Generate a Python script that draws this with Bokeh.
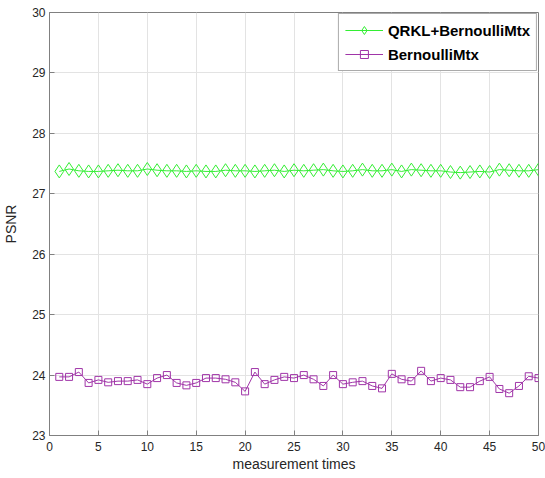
from bokeh.plotting import figure
from bokeh.models import ColumnDataSource, Range1d, Legend, LegendItem, FixedTicker
from bokeh.embed import file_html
from bokeh.resources import INLINE

# measurement index 1..50
measurement = list(range(1, 51))

qrkl_bernoulli = [27.37, 27.41, 27.38, 27.37, 27.37, 27.38, 27.39, 27.38, 27.38, 27.41,
                  27.39, 27.38, 27.38, 27.37, 27.38, 27.37, 27.37, 27.39, 27.38, 27.38,
                  27.37, 27.38, 27.39, 27.37, 27.39, 27.38, 27.39, 27.40, 27.38, 27.37,
                  27.38, 27.40, 27.38, 27.38, 27.40, 27.37, 27.40, 27.39, 27.38, 27.38,
                  27.36, 27.35, 27.36, 27.37, 27.36, 27.40, 27.39, 27.38, 27.38, 27.40]

bernoulli = [23.97, 23.97, 24.05, 23.87, 23.92, 23.88, 23.90, 23.90, 23.92, 23.85,
             23.95, 24.00, 23.87, 23.83, 23.87, 23.95, 23.95, 23.93, 23.88, 23.73,
             24.05, 23.85, 23.92, 23.97, 23.95, 24.00, 23.93, 23.82, 24.00, 23.85,
             23.88, 23.90, 23.82, 23.78, 24.02, 23.93, 23.90, 24.07, 23.90, 23.95,
             23.92, 23.80, 23.80, 23.90, 23.97, 23.77, 23.70, 23.82, 23.98, 23.95]

x_ticks = [0, 5, 10, 15, 20, 25, 30, 35, 40, 45, 50]
y_ticks = [23, 24, 25, 26, 27, 28, 29, 30]

GREEN = "#33ee33"
PURPLE = "#a035a8"
AXIS_GRAY = "#808080"
TEXT_GRAY = "#262626"
FONT = "Liberation Sans"

src = ColumnDataSource(dict(x=measurement, q=qrkl_bernoulli, b=bernoulli))

p = figure(width=545, height=478, output_backend="svg", toolbar_location=None,
           x_range=Range1d(0, 50), y_range=Range1d(23, 30),
           min_border_left=49, min_border_right=7, min_border_top=12, min_border_bottom=43)
p.background_fill_color = "white"
p.border_fill_color = "white"
p.outline_line_color = AXIS_GRAY
p.outline_line_width = 1

for ax in (p.xaxis[0], p.yaxis[0]):
    ax.axis_line_color = AXIS_GRAY
    ax.major_tick_line_color = AXIS_GRAY
    ax.major_tick_in = 5
    ax.major_tick_out = 0
    ax.minor_tick_line_color = None
    ax.major_label_text_font = FONT
    ax.major_label_text_font_size = "12px"
    ax.major_label_text_color = TEXT_GRAY
    ax.axis_label_text_font = FONT
    ax.axis_label_text_font_size = "14px"
    ax.axis_label_text_font_style = "normal"
    ax.axis_label_text_color = TEXT_GRAY

p.xaxis[0].ticker = FixedTicker(ticks=x_ticks)
p.yaxis[0].ticker = FixedTicker(ticks=y_ticks)
p.xaxis[0].axis_label = "measurement times"
p.yaxis[0].axis_label = "PSNR"
p.xaxis[0].major_label_standoff = 6
p.yaxis[0].major_label_standoff = 4
p.xaxis[0].axis_label_standoff = 2
p.yaxis[0].axis_label_standoff = 10

p.xgrid.ticker = FixedTicker(ticks=x_ticks)
p.ygrid.ticker = FixedTicker(ticks=y_ticks)
p.grid.grid_line_color = "#e3e3e3"
p.grid.grid_line_width = 1

gl = p.line("x", "q", source=src, line_color=GREEN, line_width=1)
gm = p.scatter("x", "q", source=src, marker="diamond", size=13,
               fill_color=None, line_color=GREEN, line_width=1)
bl = p.line("x", "b", source=src, line_color=PURPLE, line_width=1)
bm = p.scatter("x", "b", source=src, marker="square", size=7,
               fill_color=None, line_color=PURPLE, line_width=1)

legend = Legend(items=[LegendItem(label="QRKL+BernoulliMtx", renderers=[gl, gm]),
                       LegendItem(label="BernoulliMtx", renderers=[bl, bm])],
                location="top_right")
legend.label_text_font = FONT
legend.label_text_font_size = "15px"
legend.label_text_font_style = "bold"
legend.label_text_color = "#000000"
legend.border_line_color = "#555555"
legend.border_line_width = 1
legend.background_fill_color = "white"
legend.background_fill_alpha = 1
legend.margin = 1
legend.padding = 6
legend.spacing = 4
legend.glyph_width = 38
legend.glyph_height = 20
legend.label_standoff = 5
p.add_layout(legend)

open("out.html", "w").write(file_html(p, INLINE))
